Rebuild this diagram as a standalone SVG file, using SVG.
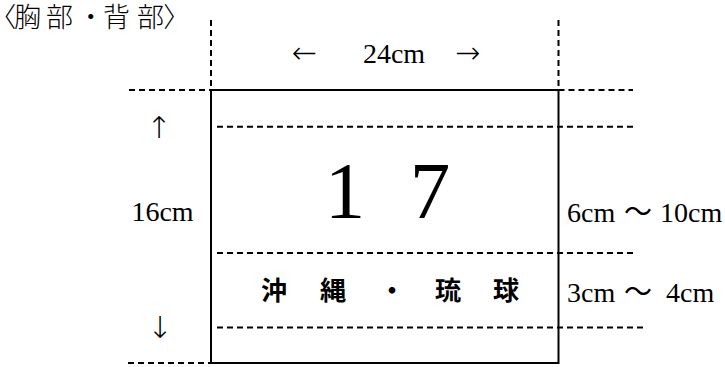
<svg xmlns="http://www.w3.org/2000/svg" width="725" height="367" viewBox="0 0 725 367">
<style>
.dash{stroke:#000;stroke-width:2;stroke-dasharray:6 4;fill:none}
.solid{stroke:#000;stroke-width:2;fill:none}
.serif{font-family:"Liberation Serif","Times New Roman","Noto Sans CJK JP",serif;fill:#000}
.cjk{font-family:"Noto Sans CJK JP","Noto Sans CJK SC",sans-serif;fill:#000}
.arrow{font-family:"DejaVu Sans","Liberation Serif",sans-serif;font-weight:200;fill:#000}
</style>
<rect width="725" height="367" fill="#fff"/>
<g id="connectors">
<line class="dash" x1="211" y1="20" x2="211" y2="90"/>
<line class="dash" x1="558.5" y1="20" x2="558.5" y2="90"/>
<line class="dash" x1="129" y1="90" x2="211" y2="90"/>
<line class="dash" x1="558.5" y1="90" x2="633" y2="90"/>
<line class="dash" x1="217" y1="126.7" x2="633" y2="126.7"/>
<line class="dash" x1="217" y1="253" x2="633" y2="253"/>
<line class="dash" x1="217" y1="327.5" x2="643" y2="327.5"/>
<line class="dash" x1="128" y1="363" x2="211" y2="363"/>
</g>
<g id="frame">
<rect class="solid" x="211" y="90" width="347.5" height="273"/>
</g>
<g id="title">
<text class="cjk" font-size="27" font-weight="300" y="27" style="font-feature-settings:'palt'"><tspan x="2">〈</tspan><tspan x="14">胸</tspan><tspan x="46">部</tspan><tspan x="84">・</tspan><tspan x="103">背</tspan><tspan x="137">部</tspan><tspan x="164">〉</tspan></text>
</g>
<g id="width-label">
<text class="arrow" font-size="30" x="304.5" y="63" text-anchor="middle">←</text>
<text class="serif" font-size="28" x="394" y="63" text-anchor="middle">24cm</text>
<text class="arrow" font-size="30" x="467.5" y="63" text-anchor="middle">→</text>
</g>
<g id="height-label">
<text class="arrow" font-size="30" x="159" y="138" text-anchor="middle">↑</text>
<text class="serif" font-size="28" x="162.5" y="221" text-anchor="middle">16cm</text>
<text class="arrow" font-size="30" x="160" y="338" text-anchor="middle">↓</text>
</g>
<g id="number">
<text class="serif" font-size="81" x="345" y="218" text-anchor="middle">1</text>
<text class="serif" font-size="81" x="430" y="218" text-anchor="middle">7</text>
</g>
<g id="name">
<text class="cjk" font-size="26" font-weight="bold" y="300" text-anchor="middle"><tspan x="274">沖</tspan><tspan x="333">縄</tspan><tspan x="392">・</tspan><tspan x="448">琉</tspan><tspan x="506">球</tspan></text>
</g>
<g id="number-size">
<text class="serif" font-size="28" y="222"><tspan x="567">6cm</tspan><tspan x="638" text-anchor="middle">～</tspan><tspan x="660">10cm</tspan></text>
</g>
<g id="name-size">
<text class="serif" font-size="28" y="302"><tspan x="567">3cm</tspan><tspan x="638" text-anchor="middle">～</tspan><tspan x="666">4cm</tspan></text>
</g>
</svg>
